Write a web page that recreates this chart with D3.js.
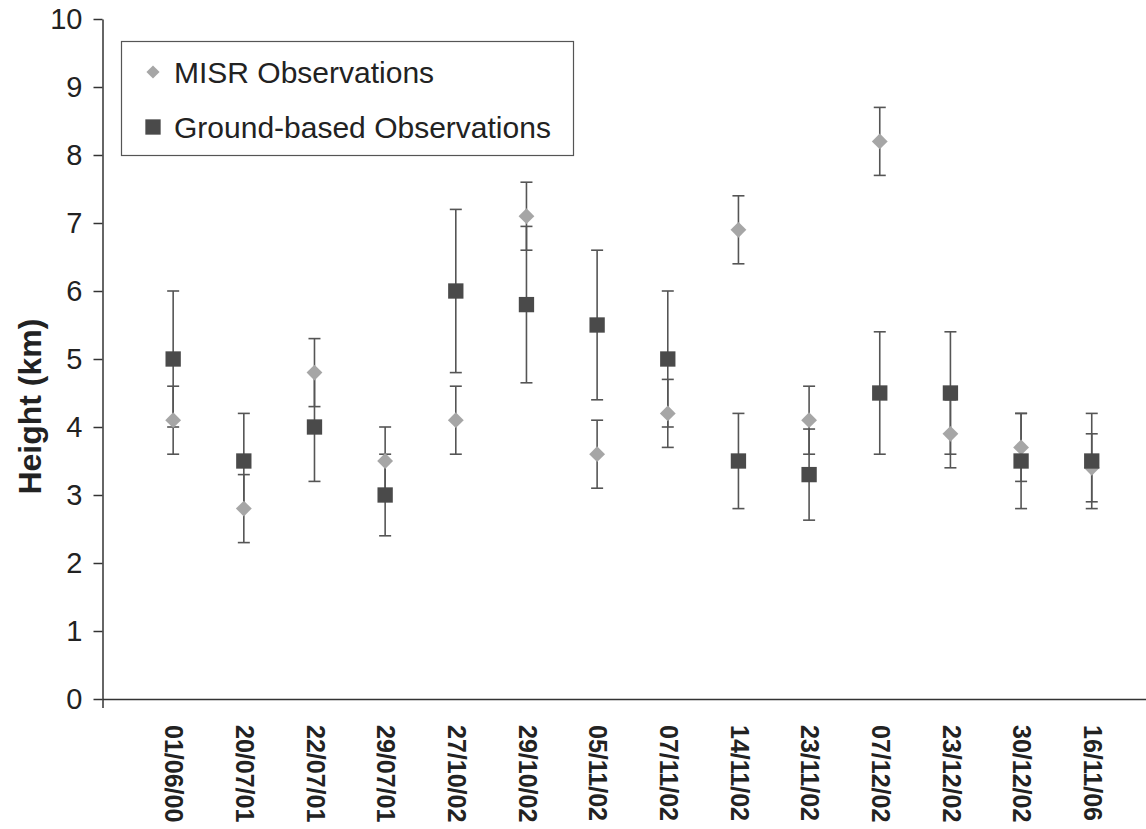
<!DOCTYPE html>
<html>
<head>
<meta charset="utf-8">
<script src="https://cdn.jsdelivr.net/npm/d3@7"></script>
<style>
  body { margin: 0; background: #fff; }
  svg { display: block; font-family: "Liberation Sans", Arial, sans-serif; }
</style>
</head>
<body>
<svg id="chart"></svg>
<script>

// observation dates (category axis)
const dates = ["01/06/00", "20/07/01", "22/07/01", "29/07/01", "27/10/02", "29/10/02", "05/11/02",
               "07/11/02", "14/11/02", "23/11/02", "07/12/02", "23/12/02", "30/12/02", "16/11/06"];

// MISR heights (km) and error
const misr_values = [4.1, 2.8, 4.8, 3.5, 4.1, 7.1, 3.6, 4.2, 6.9, 4.1, 8.2, 3.9, 3.7, 3.4];
const misr_err = [0.5, 0.5, 0.5, 0.5, 0.5, 0.5, 0.5, 0.5, 0.5, 0.5, 0.5, 0.5, 0.5, 0.5];

// ground-based heights (km) and error
const ground_values = [5.0, 3.5, 4.0, 3.0, 6.0, 5.8, 5.5, 5.0, 3.5, 3.3, 4.5, 4.5, 3.5, 3.5];
const ground_err = [1.0, 0.7, 0.8, 0.6, 1.2, 1.15, 1.1, 1.0, 0.7, 0.67, 0.9, 0.9, 0.7, 0.7];

const y_ticks = [0, 1, 2, 3, 4, 5, 6, 7, 8, 9, 10];

const svg_dims = {width: 1146, height: 829};

const svg = d3.select('#chart')
    .attr("width", svg_dims.width)
    .attr("height", svg_dims.height);

// one empty slot either side of the categories, like the original
var x_scale = d3.scaleLinear()
    .domain([0, dates.length + 1])
    .range([102.5, 102.5 + 70.66 * (dates.length + 1)]);

var y_scale = d3.scaleLinear()
    .domain([0, 10])
    .range([699, 19]);

const axis_color = "#333";
const bar_color = "#555";

// y axis
const y_axis = svg.append("g")
    .attr("transform", "translate(" + x_scale(0) + ",0)")
    .call(d3.axisLeft(y_scale).tickValues(y_ticks).tickSize(9).tickPadding(11).tickSizeOuter(0));
y_axis.select(".domain").attr("stroke", axis_color).attr("stroke-width", 1.5);
y_axis.selectAll(".tick line").attr("stroke", axis_color).attr("stroke-width", 1.5);
y_axis.selectAll(".tick text")
    .attr("font-size", 29)
    .attr("fill", "#222")
    .attr("font-family", "Liberation Sans, Arial, sans-serif");

// x axis: only the left corner tick is drawn
const x_axis = svg.append("g")
    .attr("transform", "translate(0," + y_scale(0) + ")")
    .call(d3.axisBottom(x_scale).tickValues([0]).tickSize(9).tickFormat("").tickSizeOuter(0));
x_axis.select(".domain").attr("stroke", axis_color).attr("stroke-width", 1.5);
x_axis.selectAll(".tick line").attr("stroke", axis_color).attr("stroke-width", 1.5);

// rotated date labels
svg.append("g")
  .selectAll("text")
  .data(dates)
  .join("text")
    .attr("transform", (d, i) => "translate(" + (x_scale(i + 1) + 1) + ",725) rotate(90)")
    .attr("dy", "0.35em")
    .attr("font-size", 25)
    .attr("font-weight", "bold")
    .attr("fill", "#222")
    .text(d => d);

// y axis title
svg.append("text")
    .attr("transform", "translate(30," + y_scale(4.3) + ") rotate(-90)")
    .attr("text-anchor", "middle")
    .attr("dy", "0.35em")
    .attr("font-size", 32)
    .attr("font-weight", "bold")
    .attr("fill", "#222")
    .text("Height (km)");

// build the two series from the arrays
const series = [
  {name: "MISR Observations", values: misr_values, err: misr_err, shape: d3.symbolDiamond2, size: 160, legend_size: 110, color: "#a6a6a6"},
  {name: "Ground-based Observations", values: ground_values, err: ground_err, shape: d3.symbolSquare, size: 235, legend_size: 235, color: "#4a4a4a"}
];

const cap = 6;

// error bars first, markers on top
series.forEach(function(s) {
  const g = svg.append("g");
  s.values.forEach(function(v, i) {
    const cx = x_scale(i + 1);
    const lo = y_scale(v - s.err[i]);
    const hi = y_scale(v + s.err[i]);
    g.append("line").attr("x1", cx).attr("x2", cx).attr("y1", lo).attr("y2", hi);
    g.append("line").attr("x1", cx - cap).attr("x2", cx + cap).attr("y1", lo).attr("y2", lo);
    g.append("line").attr("x1", cx - cap).attr("x2", cx + cap).attr("y1", hi).attr("y2", hi);
  });
  g.selectAll("line").attr("stroke", bar_color).attr("stroke-width", 1.6);
});

series.forEach(function(s) {
  svg.append("g")
    .selectAll("path")
    .data(s.values)
    .join("path")
      .attr("transform", (d, i) => "translate(" + x_scale(i + 1) + "," + y_scale(d) + ")")
      .attr("d", d3.symbol().type(s.shape).size(s.size))
      .attr("fill", s.color);
});

// legend
const legend = svg.append("g").attr("transform", "translate(121,41)");
legend.append("rect")
    .attr("x", 0.5).attr("y", 0.5)
    .attr("width", 452).attr("height", 114)
    .attr("fill", "#fff")
    .attr("stroke", "#555")
    .attr("stroke-width", 1.2);

series.forEach(function(s, ix) {
  const ly = 31 + ix * 55;
  legend.append("path")
    .attr("transform", "translate(32," + ly + ")")
    .attr("d", d3.symbol().type(s.shape).size(s.legend_size))
    .attr("fill", s.color);
  legend.append("text")
    .attr("x", 53)
    .attr("y", ly)
    .attr("dy", "0.35em")
    .attr("font-size", 30)
    .attr("fill", "#222")
    .text(s.name);
});

</script>
</body>
</html>
